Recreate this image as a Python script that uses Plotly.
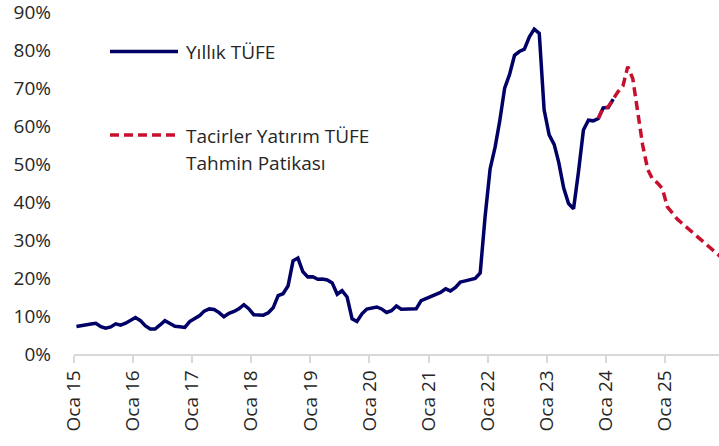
import pandas as pd
import plotly.graph_objects as go

# ---- data -------------------------------------------------------------
actual_start = "2015-01-01"
actual_cpi = [
    7.24, 7.55, 7.61, 7.91, 8.09, 7.20, 6.81, 7.14, 7.95, 7.58, 8.10, 8.81,      # 2015
    9.58, 8.78, 7.46, 6.57, 6.58, 7.64, 8.79, 8.05, 7.28, 7.16, 7.00, 8.53,      # 2016
    9.22, 10.13, 11.29, 11.87, 11.72, 10.90, 9.79, 10.68, 11.20, 11.90, 12.98, 11.92,  # 2017
    10.35, 10.26, 10.23, 10.85, 12.15, 15.39, 15.85, 17.90, 24.52, 25.24, 21.62, 20.30,  # 2018
    20.35, 19.67, 19.71, 19.50, 18.71, 15.72, 16.65, 15.01, 9.26, 8.55, 10.56, 11.84,  # 2019
    12.15, 12.37, 11.86, 10.94, 11.39, 12.62, 11.76, 11.77, 11.75, 11.89, 14.03, 14.60,  # 2020
    14.97, 15.61, 16.19, 17.14, 16.59, 17.53, 18.95, 19.25, 19.58, 19.89, 21.31, 36.08,  # 2021
    48.69, 54.44, 61.14, 69.97, 73.50, 78.62, 79.60, 80.21, 83.45, 85.51, 84.39, 64.27,  # 2022
    57.68, 55.18, 50.51, 43.68, 39.59, 38.21, 47.83, 58.94, 61.53, 61.36, 61.98, 64.77,  # 2023
    64.86, 67.07,                                                                 # 2024
]

forecast_start = "2023-11-01"
forecast_cpi = [
    62.0, 64.8,                                                                   # 2023 Nov-Dec
    65.0, 67.3, 69.0, 70.5, 75.6, 72.5, 63.4, 55.0, 48.6, 46.0, 45.0, 43.5,      # 2024
    38.7, 37.1, 35.6, 34.4, 33.3, 32.2, 31.1, 30.0, 28.9, 27.7, 26.5, 25.4,      # 2025
]

year_ticks = list(range(2015, 2026))
tick_labels = [f"Oca {y % 100:02d}" for y in year_ticks]
y_ticks = list(range(0, 91, 10))

name_actual = "Yıllık TÜFE"
name_forecast_lines = ["Tacirler Yatırım TÜFE", "Tahmin Patikası"]

# ---- styling -----------------------------------------------------------
NAVY = "#000066"
RED = "#c8102e"
TEXT = "#262626"
FONT = "Open Sans"
FS = 19

W, H = 719, 446
ML, MR, MT, MB = 74, 0, 4, 92
PW, PH = W - ML - MR, H - MT - MB
Y_MAX = 90 * PH / 342.0   # 0% at y=354 px, 90% at y=12 px

# monthly categories, points plotted at the middle of each month
mid = pd.Timedelta(days=15)
x_actual = pd.date_range(actual_start, periods=len(actual_cpi), freq="MS") + mid
x_fore = pd.date_range(forecast_start, periods=len(forecast_cpi), freq="MS") + mid

fig = go.Figure()
fig.add_trace(go.Scatter(
    x=x_actual, y=actual_cpi, mode="lines", name=name_actual,
    line=dict(color=NAVY, width=3.5), showlegend=False,
))
fig.add_trace(go.Scatter(
    x=x_fore, y=forecast_cpi, mode="lines", name=" ".join(name_forecast_lines),
    line=dict(color=RED, width=3.5, dash="9px,5px"), showlegend=False,
))

def px_x(p):
    return (p - ML) / PW

def px_y(p):
    return (H - MB - p) / PH

# manual legend (line samples + labels)
shapes = [
    dict(type="line", xref="paper", yref="paper",
         x0=px_x(110), x1=px_x(178), y0=px_y(51.5), y1=px_y(51.5),
         line=dict(color=NAVY, width=3.5)),
    dict(type="line", xref="paper", yref="paper",
         x0=px_x(110), x1=px_x(178), y0=px_y(135), y1=px_y(135),
         line=dict(color=RED, width=3.5, dash="9px,5px")),
]
annotations = [
    dict(text=name_actual, xref="paper", yref="paper", x=px_x(184), y=px_y(52),
         xanchor="left", yanchor="middle", showarrow=False,
         font=dict(family=FONT, size=FS, color=TEXT)),
    dict(text=name_forecast_lines[0], xref="paper", yref="paper", x=px_x(184), y=px_y(136),
         xanchor="left", yanchor="middle", showarrow=False,
         font=dict(family=FONT, size=FS, color=TEXT)),
    dict(text=name_forecast_lines[1], xref="paper", yref="paper", x=px_x(184), y=px_y(163),
         xanchor="left", yanchor="middle", showarrow=False,
         font=dict(family=FONT, size=FS, color=TEXT)),
]

fig.update_layout(
    width=W, height=H,
    margin=dict(l=ML, r=MR, t=MT, b=MB, pad=0, autoexpand=False),
    paper_bgcolor="white", plot_bgcolor="white",
    font=dict(family=FONT, size=FS, color=TEXT),
    showlegend=False,
    shapes=shapes, annotations=annotations,
    xaxis=dict(
        type="date",
        range=["2015-01-01", "2025-12-01"],
        tickvals=[f"{y}-01-01" for y in year_ticks],
        ticktext=tick_labels,
        tickangle=-90,
        automargin=False,
        ticklabeloverflow="allow",
        showgrid=False, zeroline=False,
        showline=True, linecolor="#d9d9d9", linewidth=1.5,
        ticks="outside", ticklen=7, tickwidth=1.5, tickcolor="#d9d9d9",
        tickfont=dict(family=FONT, size=FS, color=TEXT),
        fixedrange=True,
    ),
    yaxis=dict(
        range=[0, Y_MAX],
        tickvals=y_ticks,
        ticktext=[f"{v}%" for v in y_ticks],
        automargin=False,
        ticklabeloverflow="allow",
        showgrid=False, zeroline=False, showline=False,
        ticks="", ticklabelstandoff=22,
        tickfont=dict(family=FONT, size=FS, color=TEXT),
        fixedrange=True,
    ),
)

fig.write_html(
    "out.html",
    config={"displayModeBar": False},
    post_script="document.body.style.margin='0';document.body.style.overflow='hidden';",
)
